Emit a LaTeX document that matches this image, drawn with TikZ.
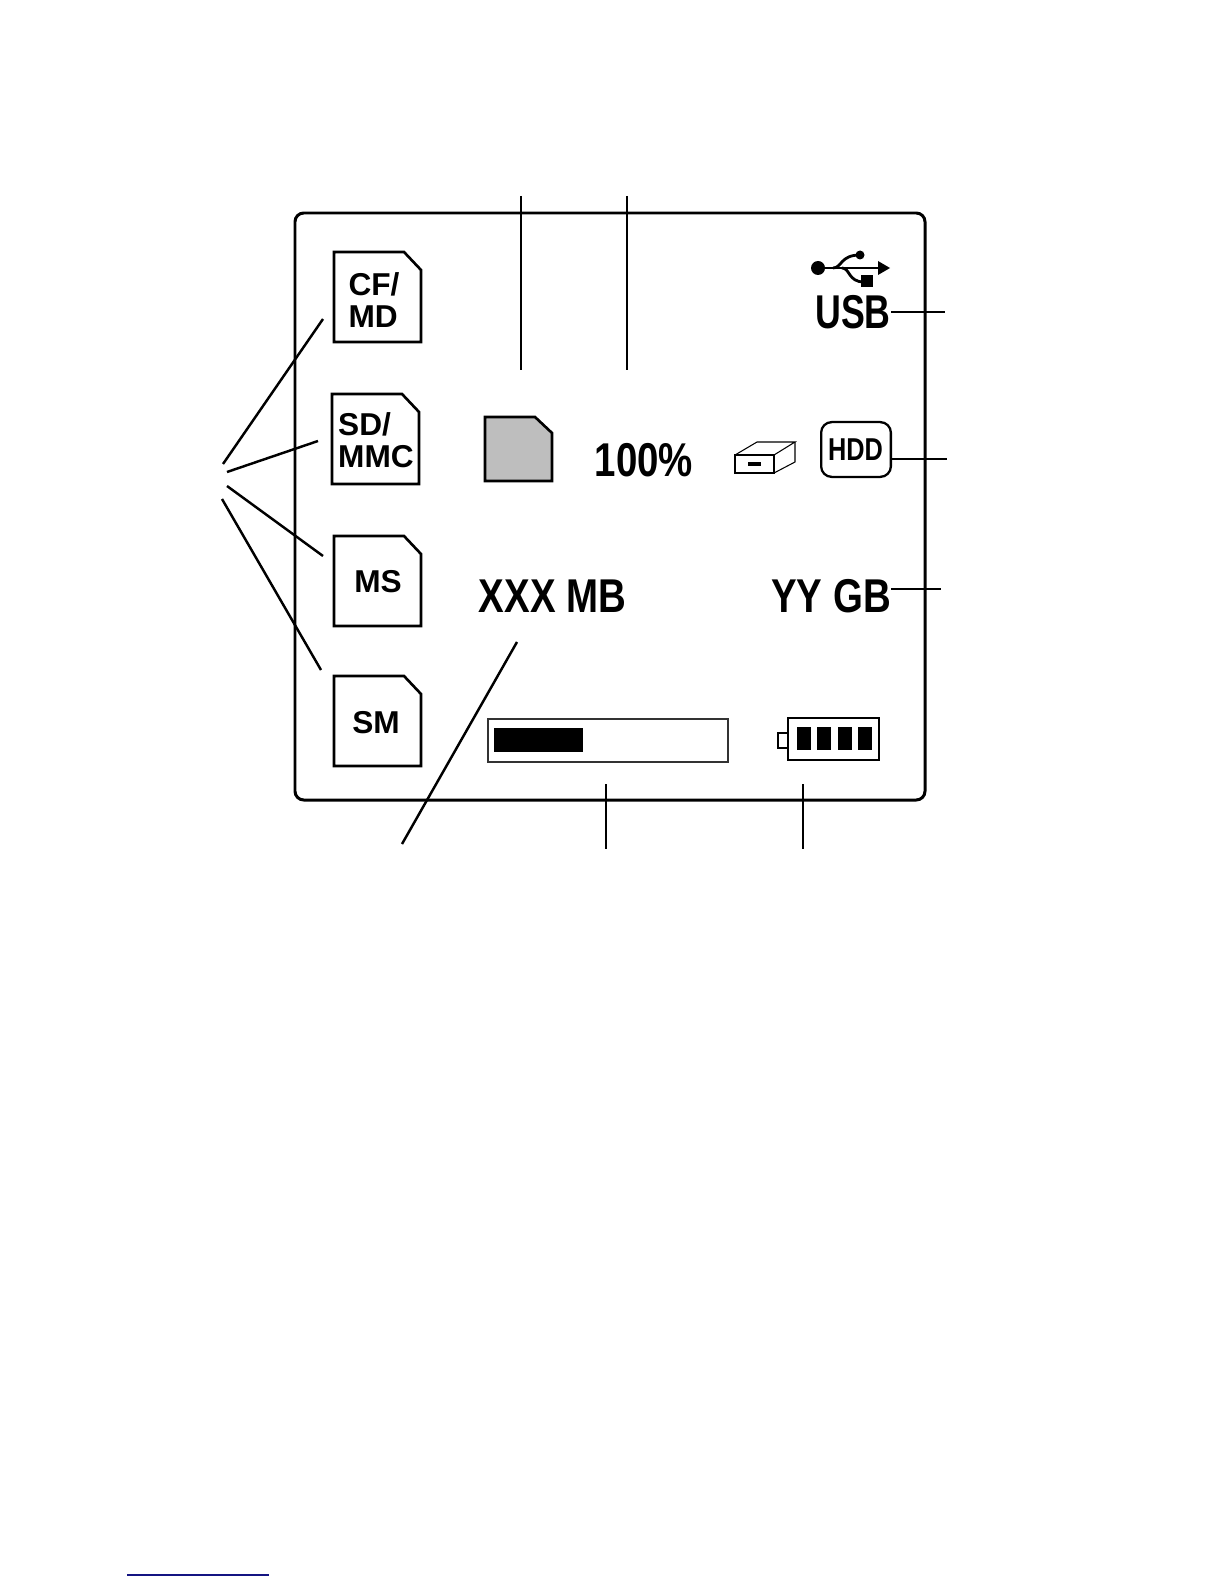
\documentclass[tikz,border=0pt]{standalone}
\usepackage{fontspec}
\setmainfont{Liberation Sans}
\definecolor{linknavy}{RGB}{20,20,130}
\definecolor{cardgray}{RGB}{190,190,190}
\usetikzlibrary{calc, positioning}

\begin{document}
\begin{tikzpicture}[
  x=0.02cm, y=-0.02cm,
  frame/.style={draw=black, line width=1.7pt, rounded corners=5pt},
  cardline/.style={draw=black, line width=1.5pt},
  cardtext/.style={font=\fontsize{18}{18}\bfseries\selectfont, inner sep=0pt, align=left},
  readout/.style={font=\fontsize{27}{27}\bfseries\selectfont, inner sep=0pt, xscale=0.81, transform shape},
  leader/.style={black, line width=1.4pt},
  thinline/.style={draw=black, line width=0.6pt},
  usbline/.style={line width=1.6pt},
]
  \useasboundingbox (0,0) rectangle (1224,1584);
  \fill[white] (0,0) rectangle (1224,1584);

  % display outline
  \draw[frame] (295,213) rectangle (925,800);

  % memory cards on the left
  \foreach \cx/\cy in {334/252, 332/394, 334/536, 334/676} {
    \draw[cardline] (\cx,\cy) -- ++(70,0) -- ++(17,18) -- ++(0,72) -- ++(-87,0) -- cycle;
  }
  \node[cardtext] (cftext) at (374,300) {CF/\\MD};
  \node[cardtext] (sdtext) at (376,440) {SD/\\MMC};
  \node[cardtext] (mstext) at (378,582) {MS};
  \node[cardtext] (smtext) at (376,723) {SM};

  % active card
  \draw[cardline, fill=cardgray] (485,417) -- (535,417) -- (552,433) -- (552,481) -- (485,481) -- cycle;

  % readouts
  \node[readout, xscale=0.93] (usblabel) at (853,312) {USB};
  \node[readout] (percent) at (644,460) {100\%};
  \node[readout] (xxxlabel) at (552.5,596) {XXX MB};
  \node[readout] (yylabel) at (831,596) {YY GB};

  % usb symbol
  \fill (818,268) circle (7);
  \draw[usbline] (818,268) -- (882,268);
  \fill (890,268) -- (878,261) -- (878,275) -- cycle;
  \draw[usbline] (833,268) .. controls (842,268) and (840,255) .. (860,255);
  \fill (860,255) circle (4.5);
  \draw[usbline] (842,268) .. controls (850,268) and (848,282) .. (864,282);
  \fill (861,275) rectangle (873,287);

  % drive symbol
  \draw[thinline] (735,455) rectangle (774,473);
  \draw[thinline] (735,455) -- (757,442) -- (795,442) -- (774,455);
  \draw[thinline] (795,442) -- (795,462) -- (774,473);
  \fill (748,462) rectangle (761,466);

  \node[draw=black, line width=1.3pt, rounded corners=6pt, minimum width=70*0.567pt, minimum height=55*0.567pt,
    inner sep=0pt] (hddbox) at (856,449.5) {};
  \node[font=\fontsize{18}{18}\bfseries\selectfont, inner sep=0pt, xscale=0.8, transform shape] (hddtext) at (855.5,450) {HDD};

  % capacity bar
  \draw[line width=0.8pt, draw=black!80] (488,719) rectangle (728,762);
  \fill (494,728) rectangle (583,752);

  % battery
  \draw[line width=1.4pt] (788,718) rectangle (879,760);
  \draw[line width=0.9pt] (778,733) rectangle (788,748);
  \foreach \bx in {797,817,838,858} {
    \fill (\bx,727) rectangle ++(14,23);
  }

  % free ends of the leaders
  \coordinate (fan1) at (223,464);
  \coordinate (fan2) at (227,472);
  \coordinate (fan3) at (227,486);
  \coordinate (fan4) at (222,499);
  \coordinate (cfend) at (323,319);
  \coordinate (sdend) at (318,441);
  \coordinate (msend) at (323,556);
  \coordinate (smend) at (321,670);
  \coordinate (cardtop) at (521,196);
  \coordinate (cardlow) at (521,370);
  \coordinate (pcttop) at (627,196);
  \coordinate (pctlow) at (627,370);
  \coordinate (usbend) at (945,312);
  \coordinate (hddend) at (947,459);
  \coordinate (yyend) at (941,589);
  \coordinate (xxxtop) at (517,642);
  \coordinate (xxxlow) at (402,844);
  \coordinate (bartop) at (606,784);
  \coordinate (barlow) at (606,849);
  \coordinate (battop) at (803,784);
  \coordinate (batlow) at (803,849);

  \draw[leader] (fan1) -- (cfend);
  \draw[leader] (fan2) -- (sdend);
  \draw[leader] (fan3) -- (msend);
  \draw[leader] (fan4) -- (smend);
  \draw[leader] (cardtop) -- (cardlow);
  \draw[leader] (pcttop) -- (pctlow);
  \draw[leader] (usblabel.east) -- (usbend);
  \draw[leader] (hddbox.east |- hddend) -- (hddend);
  \draw[leader] (yylabel.east |- yyend) -- (yyend);
  \draw[leader] (xxxtop) -- (xxxlow);
  \draw[leader] (bartop) -- (barlow);
  \draw[leader] (battop) -- (batlow);

  % link rule at the foot of the page
  \coordinate (linkl) at (127,1575);
  \coordinate (linkr) at (269,1575);
  \draw[linknavy, line width=0.7pt] (linkl) -- (linkr);
\end{tikzpicture}
\end{document}
